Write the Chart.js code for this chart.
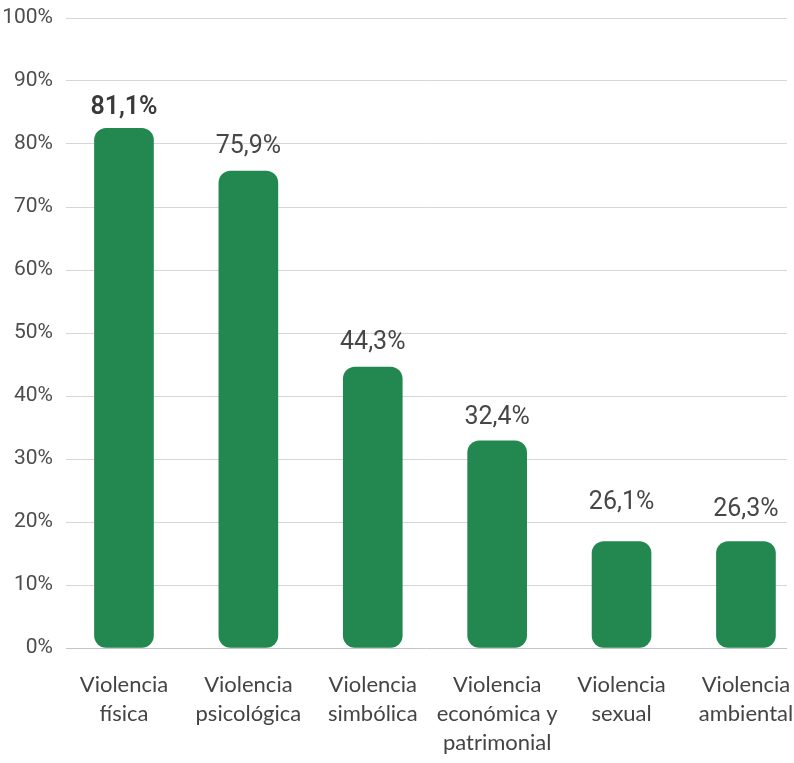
<!DOCTYPE html>
<html>
<head>
<meta charset="utf-8">
<script src="https://cdn.jsdelivr.net/npm/chart.js@4"></script>
<style>
    html, body { margin: 0; padding: 0; background: #ffffff; overflow: hidden; }
    #wrap { width: 794px; height: 763px; position: relative; }
</style>
</head>
<body>
<div id="wrap"><canvas id="chart"></canvas></div>
<script>
// categorías (eje x, en líneas)
const categories = [
    ['Violencia', 'física'],
    ['Violencia', 'psicológica'],
    ['Violencia', 'simbólica'],
    ['Violencia', 'económica y', 'patrimonial'],
    ['Violencia', 'sexual'],
    ['Violencia', 'ambiental']
];
// altura de las barras tal como se ven en la imagen
const barValues = [82.5, 75.7, 44.6, 32.9, 16.9, 16.9];
// etiquetas impresas arriba de cada barra
const valueLabels = ['81,1%', '75,9%', '44,3%', '32,4%', '26,1%', '26,3%'];
const yTicks = [0, 10, 20, 30, 40, 50, 60, 70, 80, 90, 100];

// separación de la etiqueta sobre la barra (px)
const labelLift = [21, 24, 24, 23, 39, 32];

const GREEN = '#238750';

const valueLabelPlugin = {
    id: 'valueLabels',
    afterDatasetsDraw: (chart) => {
        const ctx = chart.ctx;
        const meta = chart.getDatasetMeta(0);
        ctx.save();
        ctx.textAlign = 'center';
        ctx.textBaseline = 'middle';
        meta.data.forEach((bar, i) => {
            ctx.font = (i === 0 ? '600 ' : '400 ') + '25px Roboto, sans-serif';
            ctx.fillStyle = i === 0 ? '#3a3a3a' : '#474747';
            ctx.fillText(valueLabels[i], bar.x, bar.y - labelLift[i]);
        });
        ctx.restore();
    }
};

const ctx = document.getElementById('chart').getContext('2d');
new Chart(ctx, {
    type: 'bar',
    data: {
        datasets: [{
            data: categories.map((_, i) => ({ x: i, y: barValues[i] })),
            backgroundColor: GREEN,
            borderWidth: 0,
            borderRadius: 12,
            borderSkipped: false,
            barThickness: 59
        }]
    },
    options: {
        responsive: true,
        maintainAspectRatio: false,
        animation: false,
        layout: { padding: { top: 18, right: 7, bottom: 0, left: 0 } },
        plugins: {
            legend: { display: false },
            tooltip: { enabled: false }
        },
        scales: {
            x: {
                type: 'linear',
                offset: false,
                min: -0.466,
                max: 5.33,
                grid: { display: false, drawTicks: false },
                border: { display: false },
                afterBuildTicks: (scale) => {
                    scale.ticks = categories.map((_, i) => ({ value: i }));
                },
                afterFit: (scale) => {
                    scale.height = 115;
                    // las etiquetas caben en el lienzo, sin encoger el área
                    scale.paddingLeft = 0;
                    scale.paddingRight = 0;
                },
                ticks: {
                    autoSkip: false,
                    maxRotation: 0,
                    padding: 22,
                    color: '#444444',
                    font: { family: 'Lato, sans-serif', size: 22, lineHeight: 1.32 },
                    callback: (value) => categories[value]
                }
            },
            y: {
                min: 0,
                max: 100,
                afterBuildTicks: (scale) => {
                    scale.ticks = yTicks.map(v => ({ value: v }));
                },
                afterFit: (scale) => {
                    scale.width = 66;
                    scale.paddingTop = 0;
                    scale.paddingBottom = 0;
                },
                border: { display: false },
                grid: {
                    drawTicks: false,
                    lineWidth: 1,
                    color: (c) => c.tick && c.tick.value === 0 ? '#c4c4c4' : '#d6d6d6'
                },
                ticks: {
                    padding: 13,
                    color: '#4d4d4d',
                    font: { family: 'Roboto, sans-serif', size: 21 },
                    callback: (value) => value + '%'
                }
            }
        }
    },
    plugins: [valueLabelPlugin]
});
</script>
</body>
</html>
